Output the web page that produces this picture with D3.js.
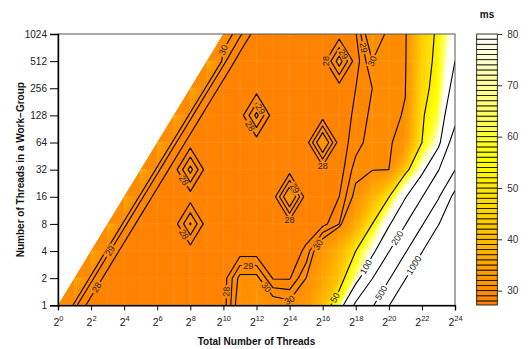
<!DOCTYPE html>
<html>
<head>
<meta charset="utf-8">
<script src="https://cdn.jsdelivr.net/npm/d3@7"></script>
<style>
  body { margin: 0; background: #fff; }
  svg { display: block; }
  text { font-family: "Liberation Sans", Arial, Helvetica, sans-serif; }
</style>
</head>
<body>
<svg id="chart" width="532" height="349"></svg>
<script>
// log2 of the total number of threads (columns) and of the work-group size (rows)
const xExponents = d3.range(0, 25);
const yExponents = d3.range(0, 11);
const xTickExponents = [0, 2, 4, 6, 8, 10, 12, 14, 16, 18, 20, 22, 24];
const yTickLabels = ["1", "2", "4", "8", "16", "32", "64", "128", "256", "512", "1024"];

// filled-band boundaries (ms) and the levels drawn as contour lines
const fillLevels = [27.2].concat(d3.range(28, 81));
const lineLevels = [28, 29, 30, 50, 100, 200, 500, 1000];
const keyTicks = [30, 40, 50, 60, 70, 80];

// execution time in ms, one array per work-group size; null where the
// work-group would be larger than the total number of threads
const msWg1 = [36, 29.3, 27.4, 27.4, 27.4, 27.4, 27.4, 27.4, 27.4, 27.4, 27.4, 31, 31.5, 31, 30.5, 32, 40, 60, 220, 450, 960, 1950, 3900, 7800, 15600];
const msWg2 = [null, 36, 29.3, 27.4, 27.4, 27.4, 27.4, 27.4, 27.4, 27.4, 27.4, 30.4, 30.4, 27.9, 27.9, 30, 35, 42, 68, 195, 460, 960, 1950, 3900, 7800];
const msWg4 = [null, null, 36, 29.3, 27.4, 27.4, 27.4, 27.4, 27.4, 27.4, 27.4, 27.4, 27.4, 27.4, 27.4, 28.2, 32, 38, 50, 80, 190, 460, 950, 1950, 3900];
const msWg8 = [null, null, null, 36, 29.3, 27.4, 27.4, 27.4, 30.1, 27.4, 27.4, 27.4, 27.4, 27.4, 27.4, 27.4, 27.6, 29, 36, 50, 90, 190, 460, 960, 1950];
const msWg16 = [null, null, null, null, 36, 29.3, 27.4, 27.4, 27.4, 27.4, 27.4, 27.4, 27.4, 27.4, 31.5, 27.4, 27.4, 28, 30.5, 38, 49, 95, 190, 460, 1150];
const msWg32 = [null, null, null, null, null, 36, 29.3, 27.4, 30.4, 27.4, 27.4, 27.4, 27.4, 27.4, 27.4, 27.4, 27.4, 27.4, 29.5, 29.8, 30, 42, 80, 190, 490];
const msWg64 = [null, null, null, null, null, null, 36, 29.3, 27.4, 27.4, 27.4, 27.4, 27.4, 27.4, 27.4, 27.4, 31.5, 27.4, 28.5, 29.6, 29.6, 31.5, 50, 80, 260];
const msWg128 = [null, null, null, null, null, null, null, 36, 29.3, 27.4, 27.4, 27.4, 30.3, 27.4, 27.4, 27.4, 27.4, 27.4, 28.2, 29.3, 29.7, 30.1, 48, 62, 160];
const msWg256 = [null, null, null, null, null, null, null, null, 36, 29.3, 27.4, 27.4, 27.4, 27.4, 27.4, 27.4, 27.4, 27.4, 28, 29, 29.5, 29.95, 46, 55, 120];
const msWg512 = [null, null, null, null, null, null, null, null, null, 36, 29.3, 27.4, 27.4, 27.4, 27.4, 27.4, 27.4, 30.6, 27.4, 30, 29.5, 29.5, 45, 53, 100];
const msWg1024 = [null, null, null, null, null, null, null, null, null, null, 31, 29.2, 27.4, 27.4, 27.4, 27.4, 27.4, 27.4, 27.9, 31.5, 29.5, 29.3, 44, 52, 88];
const timeRows = [msWg1, msWg2, msWg4, msWg8, msWg16, msWg32, msWg64, msWg128, msWg256, msWg512, msWg1024];

// where each contour label sits: [level, log2 total, log2 work-group]
const labelSpots = [
  [28, 2.2, 0.6], [29, 3.3, 2.2], [30, 10.7, 9.7],
  [28, 7.7, 2.5], [28, 7.7, 4.8], [28, 11.4, 6.75], [29, 12.2, 7.3],
  [28, 13.7, 3.3], [29, 14.4, 4.1], [28, 15.7, 5.3], [28, 16.3, 8.8], [29, 17.2, 9.4],
  [28, 10.15, 0.35], [29, 11.4, 1.6], [30, 12.7, 0.7], [30, 14.2, 0.3], [30, 15.6, 2.3],
  [29, 19.8, 9.7], [30, 18.7, 8.7],
  [50, 16.4, 0.3], [100, 18.45, 1.3], [200, 20.8, 2.65], [500, 19.35, 0.3], [1000, 21.6, 1.6]
];

const svg = d3.select("#chart");
const plot = { left: 58, right: 455, top: 34, bottom: 305.3 };
const xs = d3.scaleLinear().domain([0, 24]).range([plot.left, plot.right]);
const ys = d3.scaleLinear().domain([0, 10]).range([plot.bottom, plot.top]);

// orange -> yellow -> white palette
const palette = d3.scaleLinear()
  .domain([27.2, 55, 80])
  .range(["#ff8000", "#ffff00", "#ffffff"])
  .interpolate(d3.interpolateRgb);
const bandColor = k => palette((fillLevels[k] + fillLevels[k + 1]) / 2);

const nx = xExponents.length, ny = yExponents.length;
const grid = new Array(nx * ny);
timeRows.forEach((row, j) => row.forEach((v, i) => { grid[j * nx + i] = v == null ? NaN : v; }));
// for the isolines the empty corner takes its column's diagonal value, so no line follows its edge
const lineGrid = grid.map((v, k) => isNaN(v) ? grid[(k % nx) * nx + (k % nx)] : v);

const contours = d3.contours().size([nx, ny]);
const toPx = (cx, cy) => [xs(cx - 0.5), ys(cy - 0.5)];
const path = d3.geoPath(d3.geoTransform({
  point(x, y) { const p = toPx(x, y); this.stream.point(p[0], p[1]); }
}));

const defs = svg.append("defs");
defs.append("clipPath").attr("id", "plotClip").append("rect")
  .attr("x", plot.left).attr("y", plot.top)
  .attr("width", plot.right - plot.left).attr("height", plot.bottom - plot.top);
const validPoints = [[0, 0], [24, 0], [24, 10], [10, 10]].map(d => [xs(d[0]), ys(d[1])].join(",")).join(" ");
defs.append("clipPath").attr("id", "validClip").append("polygon").attr("points", validPoints);

// filled bands, painted from the lowest level upward
const fillG = svg.append("g").attr("clip-path", "url(#plotClip)");
fillLevels.forEach((lv, k) => {
  fillG.append("path")
    .attr("d", path(contours.contour(grid, lv)))
    .attr("fill", k < fillLevels.length - 1 ? bandColor(k) : "#ffffff");
});

// faint seams along the grid cells of the filled surface
const seamG = svg.append("g").attr("clip-path", "url(#validClip)")
  .attr("stroke", "#fff").attr("stroke-opacity", 0.1).attr("stroke-width", 1);
xExponents.slice(1, -1).forEach(e => {
  seamG.append("line").attr("x1", xs(e)).attr("x2", xs(e)).attr("y1", ys(0)).attr("y2", ys(10));
});
yExponents.slice(1, -1).forEach(e => {
  seamG.append("line").attr("x1", xs(0)).attr("x2", xs(24)).attr("y1", ys(e)).attr("y2", ys(e));
});

// contour labels: snap each spot to the nearest vertex or segment midpoint of its isoline
const inside = (cx, cy) => {
  const dx = cx - 0.5, dy = cy - 0.5;
  return dx >= 0 && dx <= 24 && dy >= 0 && dy <= 10 && dy <= dx + 0.01;
};
const labels = [];
labelSpots.forEach(([lv, hx, hy]) => {
  const geom = contours.contour(lineGrid, lv);
  const tx = xs(hx), ty = ys(hy);
  let best = null;
  const consider = (cx, cy, a, b) => {
    if (!inside(cx, cy)) return;
    const p = toPx(cx, cy);
    const d = Math.hypot(p[0] - tx, p[1] - ty);
    if (!best || d < best.d) {
      const pa = toPx(a[0], a[1]), pb = toPx(b[0], b[1]);
      best = { d, x: p[0], y: p[1], ang: Math.atan2(pb[1] - pa[1], pb[0] - pa[0]) * 180 / Math.PI };
    }
  };
  geom.coordinates.forEach(poly => poly.forEach(ring => {
    for (let i = 1; i < ring.length - 1; i++) {
      consider(ring[i][0], ring[i][1], ring[i - 1], ring[i + 1]);
      const m = [(ring[i][0] + ring[i + 1][0]) / 2, (ring[i][1] + ring[i + 1][1]) / 2];
      if (inside(ring[i][0], ring[i][1]) && inside(ring[i + 1][0], ring[i + 1][1])) {
        consider(m[0], m[1], ring[i], ring[i + 1]);
      }
    }
  }));
  if (best) {
    let ang = best.ang;
    if (ang > 90) ang -= 180;
    if (ang < -90) ang += 180;
    labels.push({ text: String(lv), x: best.x, y: best.y, ang });
  }
});

const mask = defs.append("mask").attr("id", "labelMask").attr("maskUnits", "userSpaceOnUse")
  .attr("x", 0).attr("y", 0).attr("width", 532).attr("height", 349);
mask.append("rect").attr("width", 532).attr("height", 349).attr("fill", "#fff");
labels.forEach(l => {
  const w = l.text.length * 5.2 + 3;
  mask.append("rect")
    .attr("x", -w / 2).attr("y", -4).attr("width", w).attr("height", 8)
    .attr("fill", "#000")
    .attr("transform", `translate(${l.x},${l.y}) rotate(${l.ang})`);
});

const lineG = svg.append("g").attr("clip-path", "url(#validClip)");
const lineInner = lineG.append("g").attr("mask", "url(#labelMask)");
lineLevels.forEach(lv => {
  lineInner.append("path")
    .attr("d", path(contours.contour(lineGrid, lv)))
    .attr("fill", "none").attr("stroke", "#000").attr("stroke-width", 1.1)
    .attr("stroke-linejoin", "round");
});

svg.append("g").selectAll("text").data(labels).join("text")
  .attr("transform", d => `translate(${d.x},${d.y}) rotate(${d.ang})`)
  .attr("text-anchor", "middle").attr("dominant-baseline", "central")
  .attr("font-size", 9).attr("fill", "#222")
  .text(d => d.text);

// frame and axes
svg.append("rect")
  .attr("x", plot.left).attr("y", plot.top)
  .attr("width", plot.right - plot.left).attr("height", plot.bottom - plot.top)
  .attr("fill", "none").attr("stroke", "#555").attr("stroke-width", 1);

const yAxis = d3.axisLeft(ys).tickValues(yExponents).tickFormat((d, i) => yTickLabels[i]).tickSize(8).tickPadding(3);
const yG = svg.append("g").attr("transform", `translate(${plot.left},0)`).call(yAxis);
yG.select(".domain").attr("stroke", "#000").attr("stroke-width", 1.4);
yG.selectAll(".tick line").attr("stroke", "#000");
yG.selectAll(".tick text").attr("font-size", 10).attr("fill", "#222").attr("font-family", null);

const xAxis = d3.axisBottom(xs).tickValues(xTickExponents).tickFormat(() => "").tickSize(5);
const xG = svg.append("g").attr("transform", `translate(0,${plot.bottom})`).call(xAxis);
xG.select(".domain").attr("stroke", "#000").attr("stroke-width", 1.4);
xG.selectAll(".tick line").attr("stroke", "#000");
xG.selectAll(".tick").append("text")
  .attr("y", 21).attr("text-anchor", "middle").attr("fill", "#222").attr("font-size", 10.5)
  .attr("font-family", null)
  .each(function(d) {
    const t = d3.select(this);
    t.append("tspan").text("2");
    t.append("tspan").attr("dy", -5).attr("font-size", 7.5).text(d);
  });

svg.append("text")
  .attr("x", (plot.left + plot.right) / 2).attr("y", 345)
  .attr("text-anchor", "middle").attr("font-weight", "bold").attr("font-size", 10)
  .attr("fill", "#111").text("Total Number of Threads");
svg.append("text")
  .attr("transform", `translate(24,${(plot.top + plot.bottom) / 2}) rotate(-90)`)
  .attr("text-anchor", "middle").attr("font-weight", "bold").attr("font-size", 10)
  .attr("fill", "#111").text("Number of Threads in a Work\u2212Group");

// colour key
const key = { left: 476.7, right: 497.3, top: 34, bottom: 305 };
const ks = d3.scaleLinear().domain([fillLevels[0], fillLevels[fillLevels.length - 1]]).range([key.bottom, key.top]);
const keyG = svg.append("g");
keyG.selectAll("rect").data(d3.range(fillLevels.length - 1)).join("rect")
  .attr("x", key.left).attr("width", key.right - key.left)
  .attr("y", k => ks(fillLevels[k + 1])).attr("height", k => ks(fillLevels[k]) - ks(fillLevels[k + 1]))
  .attr("fill", k => bandColor(k)).attr("stroke", "#000").attr("stroke-width", 0.8);
const kAxis = d3.axisRight(ks).tickValues(keyTicks).tickSize(5).tickPadding(5);
const kG = svg.append("g").attr("transform", `translate(${key.right},0)`).call(kAxis);
kG.select(".domain").remove();
kG.selectAll(".tick line").attr("stroke", "#333");
kG.selectAll(".tick text").attr("font-size", 10).attr("fill", "#333").attr("font-family", null);
svg.append("text").attr("x", (key.left + key.right) / 2).attr("y", 18)
  .attr("text-anchor", "middle").attr("font-weight", "bold").attr("font-size", 10)
  .attr("fill", "#111").text("ms");
</script>
</body>
</html>
